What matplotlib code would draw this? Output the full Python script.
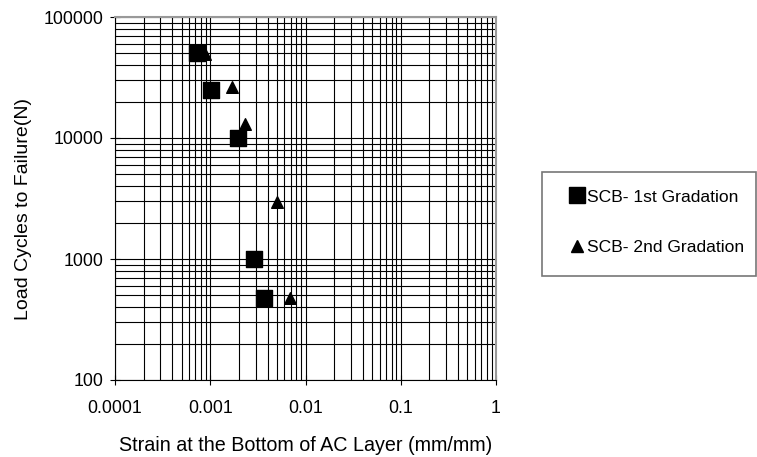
import matplotlib
matplotlib.use("Agg")
import matplotlib.pyplot as plt
from matplotlib.patches import Rectangle
from matplotlib.lines import Line2D
from matplotlib.ticker import LogLocator, FixedLocator, NullFormatter

plt.rcParams['font.family'] = ['Liberation Sans', 'DejaVu Sans']

# Data
strain_1st = [0.00073, 0.00103, 0.00195, 0.0029, 0.00367]
cycles_1st = [50000, 25000, 10000, 1000, 480]
strain_2nd = [0.00088, 0.00169, 0.00232, 0.0050, 0.0069]
cycles_2nd = [49000, 26500, 13000, 2950, 475]
series_labels = ["SCB- 1st Gradation", "SCB- 2nd Gradation"]
x_ticks = [0.0001, 0.001, 0.01, 0.1, 1]
x_ticklabels = ["0.0001", "0.001", "0.01", "0.1", "1"]
y_ticks = [100, 1000, 10000, 100000]
y_ticklabels = ["100", "1000", "10000", "100000"]

fig = plt.figure(figsize=(7.57, 4.57), dpi=100)
ax = fig.add_axes([115/757, 1-380/457, (496-115)/757, (380-17)/457])
ax.set_xscale('log')
ax.set_yscale('log')
ax.set_xlim(1e-4, 1)
ax.set_ylim(100, 100000)

ax.xaxis.set_major_locator(FixedLocator(x_ticks))
ax.set_xticklabels(x_ticklabels)
ax.yaxis.set_major_locator(FixedLocator(y_ticks))
ax.set_yticklabels(y_ticklabels)
ax.xaxis.set_minor_locator(LogLocator(base=10, subs=range(2, 10)))
ax.yaxis.set_minor_locator(LogLocator(base=10, subs=range(2, 10)))
ax.xaxis.set_minor_formatter(NullFormatter())
ax.yaxis.set_minor_formatter(NullFormatter())

ax.grid(True, which='both', color='black', linewidth=0.8)
ax.set_axisbelow(True)
ax.tick_params(which='major', direction='inout', length=7, width=0.8, labelsize=12.8)
ax.tick_params(which='minor', length=0)
ax.tick_params(axis='x', pad=11)
ax.tick_params(axis='y', pad=5)

for s in ['top', 'right']:
    ax.spines[s].set_color('#999999')
    ax.spines[s].set_linewidth(1.5)
for s in ['left', 'bottom']:
    ax.spines[s].set_color('black')
    ax.spines[s].set_linewidth(0.8)

ax.scatter(strain_1st, cycles_1st, marker='s', s=117, color='black', zorder=3, label=series_labels[0])
ax.scatter(strain_2nd, cycles_2nd, marker='^', s=70, color='black', zorder=3, label=series_labels[1])

ax.set_xlabel("Strain at the Bottom of AC Layer (mm/mm)", fontsize=14.2, labelpad=13.5)
ax.set_ylabel("Load Cycles to Failure(N)", fontsize=14, labelpad=8)
ax.yaxis.label.set_y(0.472)

# Legend box
fig.patches.append(Rectangle((542/757, 1-276/457), (756-542)/757, (276-172)/457,
                             transform=fig.transFigure, fill=False, edgecolor='#777777',
                             linewidth=1.2))
handles = [Line2D([], [], linestyle='none', marker='s', markersize=11.5, color='black'),
           Line2D([], [], linestyle='none', marker='^', markersize=8.5, color='black')]
fig.legend(handles=handles, labels=series_labels, loc='center left',
           bbox_to_anchor=(569/757, 1-222/457), frameon=False, fontsize=12.6,
           handlelength=0.9, handletextpad=0.15, labelspacing=2.0,
           borderaxespad=0, borderpad=0)

fig.savefig("out.png", dpi=100)
